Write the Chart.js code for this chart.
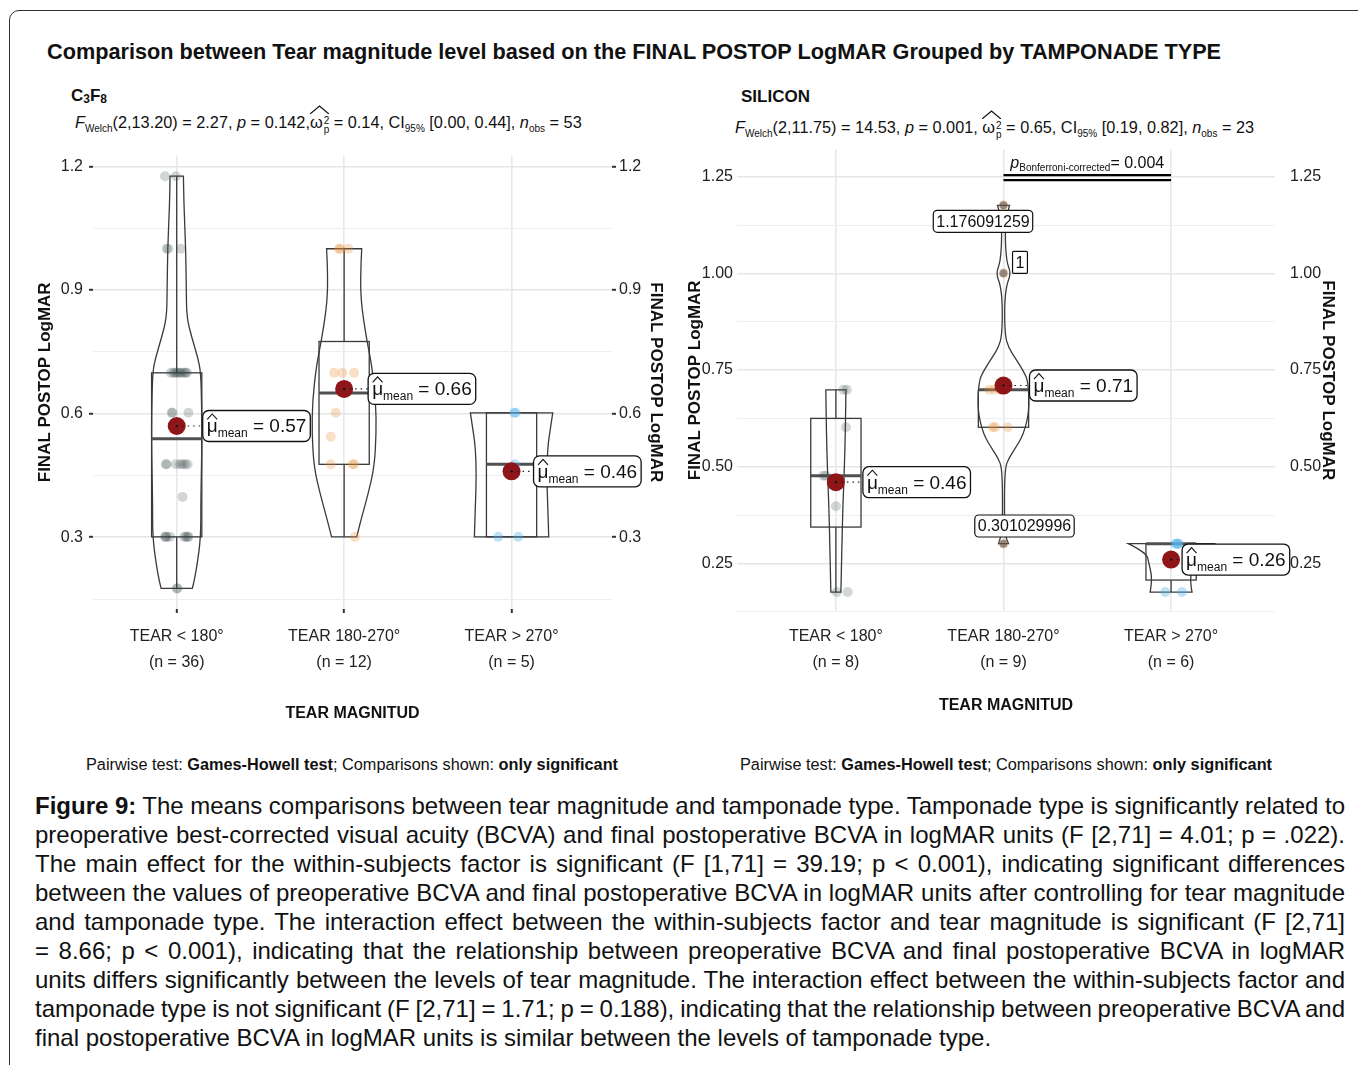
<!DOCTYPE html>
<html>
<head>
<meta charset="utf-8">
<script src="https://cdn.jsdelivr.net/npm/chart.js@4.4.1/dist/chart.umd.min.js"></script>
<style>
    html, body { margin: 0; padding: 0; overflow: hidden; background: #fff; }
    body { font-family: 'Liberation Sans', Arial, sans-serif; color: #111; width: 1358px; height: 1065px; position: relative; }
    .frame { position: absolute; left: 9px; top: 10px; width: 1420px; height: 1120px; border: 1px solid #333; border-radius: 10px; }
    .abs { position: absolute; white-space: nowrap; }
    .title { font-weight: bold; font-size: 21.7px; line-height: 26px; }
    .panel { font-weight: bold; font-size: 17px; line-height: 20px; }
    .panel .chem { font-size: 12px; position: relative; top: 2px; }
    .sub { font-size: 16.3px; line-height: 20px; }
    .sub sub { font-size: 10px; vertical-align: -4px; line-height: 0; }
    .om { position: relative; display: inline-block; }
    .om .hat { position: absolute; left: 0; top: -7px; width: 19px; height: 9px; fill: none; stroke: #111; stroke-width: 1.2; }
    .om .ss { display: inline-block; vertical-align: -5px; font-size: 10px; line-height: 9px; margin-left: 1px; }
    .om .ss span { display: block; }
    .chartbox { position: absolute; }
    .pair { font-size: 16.3px; line-height: 18px; transform: translateX(-50%); }
    .caption { position: absolute; left: 35px; top: 791px; width: 1310px; font-size: 24px; line-height: 29px; color: #111; word-spacing: -2px; }
    .caption div { text-align: justify; text-align-last: justify; white-space: nowrap; }
    .caption div.last { text-align: left; text-align-last: left; word-spacing: 0; }
</style>
</head>
<body>
<div class="frame"></div>

<div class="abs title" style="left:47px; top:39px;">Comparison between Tear magnitude level based on the FINAL POSTOP LogMAR Grouped by TAMPONADE TYPE</div>

<div class="abs panel" style="left:71px; top:86px;">C<span class="chem">3</span>F<span class="chem">8</span></div>
<div class="abs sub" style="left:75px; top:112px;"><i>F</i><sub>Welch</sub>(2,13.20) = 2.27, <i>p</i> = 0.142,<span class="om">ω<span class="ss"><span>2</span><span>p</span></span><svg class="hat" viewBox="0 0 18 9" preserveAspectRatio="none"><polyline points="0,9 9,1 18,9"/></svg></span> = 0.14, CI<sub>95%</sub> [0.00, 0.44], <i>n</i><sub>obs</sub> = 53</div>

<div class="abs panel" style="left:741px; top:87px;">SILICON</div>
<div class="abs sub" style="left:735px; top:117px;"><i>F</i><sub>Welch</sub>(2,11.75) = 14.53, <i>p</i> = 0.001, <span class="om">ω<span class="ss"><span>2</span><span>p</span></span><svg class="hat" viewBox="0 0 18 9" preserveAspectRatio="none"><polyline points="0,9 9,1 18,9"/></svg></span> = 0.65, CI<sub>95%</sub> [0.19, 0.82], <i>n</i><sub>obs</sub> = 23</div>

<div class="chartbox" style="left:20px; top:140px;"><canvas id="c3f8Chart" width="660" height="600"></canvas></div>
<div class="chartbox" style="left:680px; top:140px;"><canvas id="siliconChart" width="670" height="600"></canvas></div>

<div class="abs pair" style="left:352px; top:755px;">Pairwise test: <b>Games-Howell test</b>; Comparisons shown: <b>only significant</b></div>
<div class="abs pair" style="left:1006px; top:755px;">Pairwise test: <b>Games-Howell test</b>; Comparisons shown: <b>only significant</b></div>

<div class="caption">
    <div><b>Figure 9:</b> The means comparisons between tear magnitude and tamponade type. Tamponade type is significantly related to</div>
    <div>preoperative best-corrected visual acuity (BCVA) and final postoperative BCVA in logMAR units (F [2,71] = 4.01; p = .022).</div>
    <div>The main effect for the within-subjects factor is significant (F [1,71] = 39.19; p &lt; 0.001), indicating significant differences</div>
    <div>between the values of preoperative BCVA and final postoperative BCVA in logMAR units after controlling for tear magnitude</div>
    <div>and tamponade type. The interaction effect between the within-subjects factor and tear magnitude is significant (F [2,71]</div>
    <div>= 8.66; p &lt; 0.001), indicating that the relationship between preoperative BCVA and final postoperative BCVA in logMAR</div>
    <div>units differs significantly between the levels of tear magnitude. The interaction effect between the within-subjects factor and</div>
    <div>tamponade type is not significant (F [2,71] = 1.71; p = 0.188), indicating that the relationship between preoperative BCVA and</div>
    <div class="last">final postoperative BCVA in logMAR units is similar between the levels of tamponade type.</div>
</div>

<script>
// ---------- data ----------
const categories = ['TEAR < 180°', 'TEAR 180-270°', 'TEAR > 270°'];
const c3f8Counts = [36, 12, 5];
const siliconCounts = [8, 9, 6];

const c3f8TicksMajor = [0.3, 0.6, 0.9, 1.2];
const c3f8TicksMinor = [0.15, 0.45, 0.75, 1.05];
const siliconTicksMajor = [0.25, 0.5, 0.75, 1.0, 1.25];
const siliconTicksMinor = [0.125, 0.375, 0.625, 0.875, 1.125];

// C3F8 observations (FINAL POSTOP LogMAR) and their horizontal jitter
const c3f8Lt180 = [1.176, 1.176, 1.0, 1.0, 1.0,
    0.699, 0.699, 0.699, 0.699, 0.699, 0.699, 0.699, 0.699, 0.699, 0.699,
    0.602, 0.602, 0.602, 0.477, 0.477, 0.477, 0.477, 0.477, 0.477, 0.477,
    0.398, 0.301, 0.301, 0.301, 0.301, 0.301, 0.301, 0.301, 0.301, 0.176, 0.176];
const c3f8Lt180Jitter = [-0.07, -0.005, -0.06, -0.05, 0.025,
    -0.035, -0.02, -0.01, 0.0, 0.01, 0.02, 0.03, 0.045, 0.055, 0.06,
    -0.03, -0.025, 0.07, -0.065, -0.06, -0.005, 0.02, 0.035, 0.05, 0.065,
    0.035, -0.07, -0.065, -0.06, -0.04, 0.045, 0.055, 0.065, 0.07, 0.0, 0.005];
const c3f8Mid = [1.0, 1.0, 1.0, 0.699, 0.699, 0.699, 0.602, 0.544, 0.477, 0.477, 0.477, 0.301];
const c3f8MidJitter = [-0.03, -0.025, 0.025, -0.06, -0.01, 0.06, -0.05, -0.08, -0.08, 0.05, 0.06, 0.065];
const c3f8Gt270 = [0.602, 0.602, 0.477, 0.301, 0.301];
const c3f8Gt270Jitter = [0.015, 0.025, 0.02, -0.08, 0.04];

// SILICON observations
const siliconLt180 = [0.699, 0.699, 0.602, 0.477, 0.477, 0.398, 0.176, 0.176];
const siliconLt180Jitter = [0.045, 0.065, 0.06, -0.075, -0.06, 0.0, 0.005, 0.07];
const siliconMid = [1.176, 1.0, 0.699, 0.699, 0.699, 0.602, 0.602, 0.602, 0.301];
const siliconMidJitter = [0.0, 0.0, -0.085, -0.055, -0.02, -0.065, -0.05, 0.025, 0.0];
const siliconGt270 = [0.301, 0.301, 0.301, 0.301, 0.176, 0.176];
const siliconGt270Jitter = [0.025, 0.035, 0.04, 0.045, -0.035, 0.065];

// boxplots: [lower whisker, Q1, median, Q3, upper whisker]
const c3f8Box = [[0.176, 0.301, 0.539, 0.699, 1.176], [0.301, 0.477, 0.65, 0.775, 1.0], [0.301, 0.301, 0.477, 0.602, 0.602]];
const siliconBox = [[0.176, 0.344, 0.477, 0.625, 0.699], [0.602, 0.602, 0.699, 0.699, 0.699], [0.176, 0.207, 0.301, 0.301, 0.301]];
const siliconOutliers = [1.176, 1.0, 0.301];
const siliconOutlierLabels = ['1.176091259', '1', '0.301029996'];

const c3f8Means = [0.57, 0.66, 0.46];
const siliconMeans = [0.46, 0.71, 0.26];

// violin outlines: [logMAR, half width in category units]
const c3f8Violins = [
    [[0.176, 0.093], [0.19, 0.102], [0.228, 0.12], [0.3, 0.144], [0.39, 0.144], [0.51, 0.15], [0.6, 0.15],
     [0.7, 0.144], [0.736, 0.126], [0.785, 0.09], [0.833, 0.06], [0.9, 0.057], [1.0, 0.054], [1.115, 0.042], [1.176, 0.04]],
    [[0.301, 0.075], [0.349, 0.105], [0.406, 0.144], [0.47, 0.18], [0.551, 0.192], [0.631, 0.189],
     [0.718, 0.165], [0.785, 0.132], [0.876, 0.099], [0.95, 0.099], [1.0, 0.105]],
    [[0.301, 0.222], [0.38, 0.216], [0.45, 0.21], [0.52, 0.216], [0.57, 0.234], [0.602, 0.246]]
];
const siliconViolins = [
    [[0.176, 0.03], [0.3, 0.036], [0.4, 0.042], [0.5, 0.051], [0.6, 0.057], [0.699, 0.06]],
    [[0.301, 0.03], [0.32, 0.012], [0.36, 0.006], [0.45, 0.006], [0.5, 0.012], [0.52, 0.03], [0.545, 0.066],
     [0.583, 0.12], [0.646, 0.155], [0.721, 0.147], [0.747, 0.12], [0.78, 0.072], [0.808, 0.03], [0.84, 0.009],
     [0.92, 0.006], [0.97, 0.018], [1.0, 0.045], [1.03, 0.018], [1.1, 0.009], [1.15, 0.018], [1.176, 0.036]],
    [[0.176, 0.125], [0.19, 0.119], [0.219, 0.115], [0.256, 0.136], [0.271, 0.143], [0.29, 0.203], [0.301, 0.255]]
];

const siliconSigPair = [2, 3];
const siliconSigY = 1.25;
const siliconSigP = '0.004';

// ---------- styling ----------
const FONT = "'Liberation Sans', Arial, sans-serif";
const pointColors = ['rgba(50, 70, 70, 0.22)', 'rgba(235, 140, 50, 0.28)', 'rgba(86, 180, 233, 0.38)'];
const meanColor = '#8e1518';

Chart.defaults.font.family = FONT;
Chart.defaults.font.size = 16;
Chart.defaults.color = '#222';

// per-panel settings used by the drawing plugin
const panels = {
    c3f8Chart: {
        means: c3f8Means, boxes: c3f8Box, violins: c3f8Violins,
        meanDx: [26, 24, 22]
    },
    siliconChart: {
        means: siliconMeans, boxes: siliconBox, violins: siliconViolins,
        meanDx: [27, 26, 11],
        outliers: siliconOutliers, outlierLabels: siliconOutlierLabels,
        outlierOffsets: [[-20.5, 16], [16.5, -11], [21, -17.7]],
        sig: true
    }
};

function smoothThrough(ctx, pts) {
    for (let i = 1; i < pts.length - 1; i++) {
        const mx = (pts[i][0] + pts[i + 1][0]) / 2;
        const my = (pts[i][1] + pts[i + 1][1]) / 2;
        ctx.quadraticCurveTo(pts[i][0], pts[i][1], mx, my);
    }
    const last = pts[pts.length - 1];
    ctx.lineTo(last[0], last[1]);
}

function drawMeanLabel(ctx, px, py, value, dx) {
    ctx.font = `19px ${FONT}`;
    const wMu = ctx.measureText('μ').width;
    const rest = ' = ' + value.toFixed(2);
    const wRest = ctx.measureText(rest).width;
    ctx.font = `12px ${FONT}`;
    const wSub = ctx.measureText('mean').width;
    const padX = 4, h = 31;
    const w = padX * 2 + wMu + wSub + wRest;
    const bx = px + dx, by = py - h / 2;

    ctx.save();
    ctx.setLineDash([1.5, 4]);
    ctx.strokeStyle = '#222';
    ctx.lineWidth = 1.2;
    ctx.beginPath();
    ctx.moveTo(px, py);
    ctx.lineTo(bx, py);
    ctx.stroke();
    ctx.restore();
    ctx.beginPath();
    ctx.arc(px, py, 1.1, 0, Math.PI * 2);
    ctx.fillStyle = '#111';
    ctx.fill();

    ctx.beginPath();
    ctx.roundRect(bx, by, w, h, 6);
    ctx.fillStyle = '#fff';
    ctx.fill();
    ctx.lineWidth = 1.3;
    ctx.strokeStyle = '#111';
    ctx.stroke();

    ctx.fillStyle = '#111';
    ctx.textAlign = 'left';
    ctx.textBaseline = 'alphabetic';
    let tx = bx + padX;
    const base = py + 6.5;
    ctx.font = `19px ${FONT}`;
    ctx.fillText('μ', tx, base);
    ctx.beginPath();
    ctx.moveTo(tx + 0.5, py - 6.5);
    ctx.lineTo(tx + wMu / 2, py - 12);
    ctx.lineTo(tx + wMu - 0.5, py - 6.5);
    ctx.lineWidth = 1.1;
    ctx.stroke();
    tx += wMu;
    ctx.font = `12px ${FONT}`;
    ctx.fillText('mean', tx, base + 5);
    tx += wSub;
    ctx.font = `19px ${FONT}`;
    ctx.fillText(rest, tx, base);
}

function drawTag(ctx, cx, cy, text, radius) {
    ctx.font = `16px ${FONT}`;
    const w = ctx.measureText(text).width + 6, h = 22;
    ctx.beginPath();
    ctx.roundRect(cx - w / 2, cy - h / 2, w, h, radius);
    ctx.fillStyle = '#fff';
    ctx.fill();
    ctx.lineWidth = 1.2;
    ctx.strokeStyle = '#111';
    ctx.stroke();
    ctx.fillStyle = '#111';
    ctx.textAlign = 'center';
    ctx.textBaseline = 'middle';
    ctx.fillText(text, cx, cy + 1);
}

const shapesPlugin = {
    id: 'shapes',
    beforeDatasetsDraw(chart) {
        const p = panels[chart.canvas.id];
        const { ctx, scales: { x, y } } = chart;
        ctx.save();
        // violins
        p.violins.forEach((prof, g) => {
            const c = g + 1;
            const left = prof.map(q => [x.getPixelForValue(c - q[1]), y.getPixelForValue(q[0])]);
            const right = prof.slice().reverse().map(q => [x.getPixelForValue(c + q[1]), y.getPixelForValue(q[0])]);
            ctx.beginPath();
            ctx.moveTo(left[0][0], left[0][1]);
            smoothThrough(ctx, left);
            ctx.lineTo(right[0][0], right[0][1]);
            smoothThrough(ctx, right);
            ctx.closePath();
            ctx.strokeStyle = '#3a3a3a';
            ctx.lineWidth = 1.3;
            ctx.stroke();
        });
        // boxplots
        p.boxes.forEach((b, g) => {
            const c = g + 1;
            const [mn, q1, md, q3, mx] = b;
            const xl = x.getPixelForValue(c - 0.15), xr = x.getPixelForValue(c + 0.15), xc = x.getPixelForValue(c);
            ctx.strokeStyle = '#3a3a3a';
            ctx.lineWidth = 1.3;
            ctx.beginPath();
            ctx.moveTo(xc, y.getPixelForValue(mx));
            ctx.lineTo(xc, y.getPixelForValue(q3));
            ctx.moveTo(xc, y.getPixelForValue(q1));
            ctx.lineTo(xc, y.getPixelForValue(mn));
            ctx.stroke();
            ctx.strokeRect(xl, y.getPixelForValue(q3), xr - xl, y.getPixelForValue(q1) - y.getPixelForValue(q3));
            ctx.beginPath();
            ctx.strokeStyle = '#505050';
            ctx.lineWidth = 3;
            ctx.moveTo(xl, y.getPixelForValue(md));
            ctx.lineTo(xr, y.getPixelForValue(md));
            ctx.stroke();
        });
        ctx.restore();
    },
    afterDatasetsDraw(chart) {
        const p = panels[chart.canvas.id];
        const { ctx, scales: { x, y } } = chart;
        ctx.save();
        p.means.forEach((m, g) => {
            drawMeanLabel(ctx, x.getPixelForValue(g + 1), y.getPixelForValue(m), m, p.meanDx[g]);
        });
        if (p.outliers) {
            p.outliers.forEach((v, i) => {
                const off = p.outlierOffsets[i];
                drawTag(ctx, x.getPixelForValue(2) + off[0], y.getPixelForValue(v) + off[1], p.outlierLabels[i], i === 1 ? 1 : 4);
            });
        }
        if (p.sig) {
            const x1 = x.getPixelForValue(siliconSigPair[0]), x2 = x.getPixelForValue(siliconSigPair[1]);
            const yb = y.getPixelForValue(siliconSigY);
            ctx.strokeStyle = '#000';
            ctx.lineWidth = 2.2;
            ctx.beginPath();
            ctx.moveTo(x1, yb - 1.5); ctx.lineTo(x2, yb - 1.5);
            ctx.moveTo(x1, yb + 3.5); ctx.lineTo(x2, yb + 3.5);
            ctx.stroke();
            // p_Bonferroni-corrected = 0.004
            ctx.fillStyle = '#111';
            ctx.textBaseline = 'alphabetic';
            ctx.textAlign = 'left';
            ctx.font = `italic 16px ${FONT}`;
            const wp = ctx.measureText('p').width;
            ctx.font = `10px ${FONT}`;
            const ws = ctx.measureText('Bonferroni-corrected').width;
            ctx.font = `16px ${FONT}`;
            const rest = '= ' + siliconSigP;
            const wr = ctx.measureText(rest).width;
            let tx = (x1 + x2) / 2 - (wp + ws + wr) / 2;
            const base = yb - 9;
            ctx.font = `italic 16px ${FONT}`;
            ctx.fillText('p', tx, base);
            tx += wp;
            ctx.font = `10px ${FONT}`;
            ctx.fillText('Bonferroni-corrected', tx, base + 3);
            tx += ws;
            ctx.font = `16px ${FONT}`;
            ctx.fillText(rest, tx, base);
        }
        ctx.restore();
    }
};

function buildPanel(canvasId, cfg) {
    const datasets = [{
        type: 'scatter',
        data: cfg.means.map((m, g) => ({ x: g + 1, y: m })),
        backgroundColor: meanColor,
        borderWidth: 0,
        pointRadius: 9,
        order: 0
    }];
    cfg.values.forEach((vals, g) => {
        datasets.push({
            type: 'scatter',
            data: vals.map((v, i) => ({ x: g + 1 + cfg.jitter[g][i], y: v })),
            backgroundColor: pointColors[g],
            borderWidth: 0,
            pointRadius: 5,
            order: 2
        });
    });
    if (cfg.outliers) {
        datasets.push({
            type: 'scatter',
            data: cfg.outliers.map(v => ({ x: 2, y: v })),
            backgroundColor: 'rgba(70, 70, 70, 0.55)',
            borderWidth: 0,
            pointRadius: 4,
            order: 1
        });
    }

    const allTicks = cfg.major.concat(cfg.minor).sort((a, b) => a - b);
    const isMajor = v => cfg.major.includes(v);
    const yTitle = pad => ({
        display: true, text: 'FINAL POSTOP LogMAR', color: '#111',
        font: { size: 17, weight: 'bold' }, padding: { top: pad, bottom: 0 }
    });
    // y-axis tick marks: t = [length, label padding, visible]
    const yGrid = (t, onArea) => ({
        drawOnChartArea: onArea, drawTicks: true, tickLength: t[0], tickWidth: 2,
        color: c => isMajor(c.tick.value) ? '#e6e6e6' : '#efefef',
        lineWidth: c => isMajor(c.tick.value) ? 1.6 : 1,
        tickColor: c => (t[2] && isMajor(c.tick.value)) ? '#333' : 'rgba(0,0,0,0)'
    });

    return new Chart(document.getElementById(canvasId), {
        type: 'scatter',
        data: { datasets },
        plugins: [shapesPlugin],
        options: {
            responsive: false,
            animation: false,
            events: [],
            layout: { padding: { top: cfg.padTop, left: 0, right: 0, bottom: 0 } },
            plugins: { legend: { display: false }, tooltip: { enabled: false } },
            scales: {
                x: {
                    type: 'linear', min: cfg.xMin, max: cfg.xMax,
                    afterBuildTicks: s => { s.ticks = [1, 2, 3].map(v => ({ value: v })); },
                    afterFit: s => { s.height = cfg.xHeight; },
                    ticks: {
                        autoSkip: false, maxRotation: 0, padding: cfg.xPad, color: '#222',
                        font: { size: 16, lineHeight: 1.625 },
                        callback: v => [categories[v - 1], '(n = ' + cfg.counts[v - 1] + ')']
                    },
                    grid: { color: '#e8e8e8', lineWidth: 1.6, drawTicks: cfg.xTicks, tickLength: 4, tickColor: '#333', tickWidth: 2 },
                    border: { display: false },
                    title: {
                        display: true, text: 'TEAR MAGNITUD', color: '#111',
                        font: { size: 16, weight: 'bold' }, padding: { top: 0, bottom: cfg.xTitlePad }
                    }
                },
                y: {
                    type: 'linear', position: 'left', min: cfg.yMin, max: cfg.yMax,
                    afterBuildTicks: s => { s.ticks = allTicks.map(v => ({ value: v })); },
                    afterFit: s => { s.width = cfg.leftWidth; },
                    ticks: { autoSkip: false, padding: cfg.leftTick[1], color: '#222', callback: v => isMajor(v) ? v.toFixed(cfg.decimals) : '' },
                    grid: yGrid(cfg.leftTick, true),
                    border: { display: false },
                    title: yTitle(cfg.leftTitlePad)
                },
                y2: {
                    type: 'linear', position: 'right', min: cfg.yMin, max: cfg.yMax,
                    afterBuildTicks: s => { s.ticks = allTicks.map(v => ({ value: v })); },
                    afterFit: s => { s.width = cfg.rightWidth; },
                    ticks: { autoSkip: false, padding: cfg.rightTick[1], color: '#222', callback: v => isMajor(v) ? v.toFixed(cfg.decimals) : '' },
                    grid: yGrid(cfg.rightTick, false),
                    border: { display: false },
                    title: yTitle(cfg.rightTitlePad)
                }
            }
        }
    });
}

buildPanel('c3f8Chart', {
    values: [c3f8Lt180, c3f8Mid, c3f8Gt270],
    jitter: [c3f8Lt180Jitter, c3f8MidJitter, c3f8Gt270Jitter],
    means: c3f8Means, counts: c3f8Counts,
    major: c3f8TicksMajor, minor: c3f8TicksMinor, decimals: 1,
    xMin: 0.5, xMax: 3.6, yMin: 0.126, yMax: 1.226,
    padTop: 14, xHeight: 131, xPad: 11, xTitlePad: 16.4, xTicks: true,
    leftWidth: 73, leftTick: [4, 6, true], leftTitlePad: 15.4,
    rightWidth: 68, rightTick: [4, 3, true], rightTitlePad: 14.4
});

buildPanel('siliconChart', {
    values: [siliconLt180, siliconMid, siliconGt270],
    jitter: [siliconLt180Jitter, siliconMidJitter, siliconGt270Jitter],
    means: siliconMeans, counts: siliconCounts, outliers: siliconOutliers,
    major: siliconTicksMajor, minor: siliconTicksMinor, decimals: 2,
    xMin: 0.41, xMax: 3.62, yMin: 0.127, yMax: 1.32,
    padTop: 9.5, xHeight: 129, xPad: 13, xTitlePad: 24.4, xTicks: false,
    leftWidth: 57, leftTick: [4, 0, false], leftTitlePad: 5.4,
    rightWidth: 75, rightTick: [15, 0, false], rightTitlePad: 12.4
});
</script>
</body>
</html>
